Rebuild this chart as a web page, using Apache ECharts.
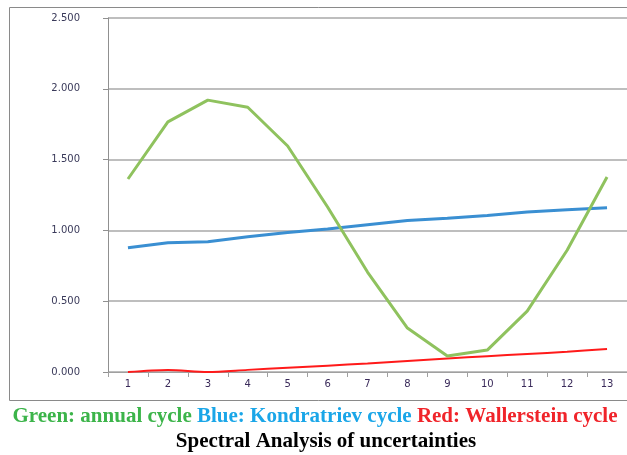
<!DOCTYPE html>
<html>
<head>
<meta charset="utf-8">
<script src="https://cdn.jsdelivr.net/npm/echarts@6/dist/echarts.min.js"></script>
<style>
  html, body { margin: 0; padding: 0; background: #fff; }
  #chart { width: 627px; height: 455px; }
</style>
</head>
<body>
<div id="chart"></div>
<script>
// 数据
var periods = ['1', '2', '3', '4', '5', '6', '7', '8', '9', '10', '11', '12', '13'];
var annualCycle = [1.363, 1.766, 1.920, 1.870, 1.596, 1.165, 0.706, 0.310, 0.113, 0.155, 0.430, 0.860, 1.377];
var kondratrievCycle = [0.878, 0.913, 0.920, 0.955, 0.985, 1.010, 1.040, 1.070, 1.085, 1.105, 1.130, 1.145, 1.160];
var wallersteinCycle = [0.000, 0.015, 0.000, 0.015, 0.030, 0.045, 0.060, 0.078, 0.095, 0.112, 0.127, 0.143, 0.162];

var chart = echarts.init(document.getElementById('chart'));

var option = {
  backgroundColor: '#fff',
  animation: false,
  grid: {
    left: 108,
    top: 18,
    right: -5,
    bottom: 83,
    containLabel: false
  },
  xAxis: {
    type: 'category',
    data: periods,
    boundaryGap: true,
    axisLine: { lineStyle: { color: '#a0a0a0', width: 1 } },
    axisTick: { show: true, length: 5, lineStyle: { color: '#a0a0a0' } },
    axisLabel: {
      margin: 7,
      fontFamily: 'DejaVu Sans',
      fontSize: 10,
      color: '#3a2a5a'
    },
    splitLine: { show: false }
  },
  yAxis: {
    type: 'value',
    min: 0,
    max: 2.5,
    interval: 0.5,
    axisLine: { show: true, lineStyle: { color: '#909090', width: 1 } },
    axisTick: { show: true, length: 5, lineStyle: { color: '#909090' } },
    axisLabel: {
      margin: 28,
      fontFamily: 'DejaVu Sans',
      fontSize: 10,
      color: '#3a3a5a',
      formatter: function (v) { return v.toFixed(3); }
    },
    splitLine: { show: true, lineStyle: { color: '#a8a8a8', width: 1.5 } }
  },
  series: [
    {
      name: 'Kondratriev cycle',
      type: 'line',
      data: kondratrievCycle,
      symbol: 'none',
      lineStyle: { color: '#3a8fd2', width: 3 }
    },
    {
      name: 'Wallerstein cycle',
      type: 'line',
      data: wallersteinCycle,
      symbol: 'none',
      smooth: 0.3,
      lineStyle: { color: '#ff1a1a', width: 2 }
    },
    {
      name: 'annual cycle',
      type: 'line',
      data: annualCycle,
      symbol: 'none',
      lineStyle: { color: '#8fc25e', width: 3 }
    }
  ],
  graphic: [
    {
      type: 'rect',
      silent: true,
      z: -1,
      shape: { x: 9.5, y: 7.5, width: 640, height: 393 },
      style: { fill: 'none', stroke: '#8a8a8a', lineWidth: 1 }
    },
    {
      type: 'text',
      x: 315,
      y: 406,
      style: {
        text: '{g|Green: annual cycle} {b|Blue: Kondratriev cycle} {r|Red: Wallerstein cycle}',
        align: 'center',
        rich: {
          g: { fontFamily: 'Liberation Serif', fontWeight: 'bold', fontSize: 21, fill: '#3cb44a' },
          b: { fontFamily: 'Liberation Serif', fontWeight: 'bold', fontSize: 21, fill: '#1aa6e8' },
          r: { fontFamily: 'Liberation Serif', fontWeight: 'bold', fontSize: 21, fill: '#f0242a' }
        },
        fontFamily: 'Liberation Serif',
        fontWeight: 'bold',
        fontSize: 21
      }
    },
    {
      type: 'text',
      x: 326,
      y: 431,
      style: {
        text: 'Spectral Analysis of uncertainties',
        align: 'center',
        fontFamily: 'Liberation Serif',
        fontWeight: 'bold',
        fontSize: 21,
        fill: '#000'
      }
    }
  ]
};

chart.setOption(option);
</script>
</body>
</html>
